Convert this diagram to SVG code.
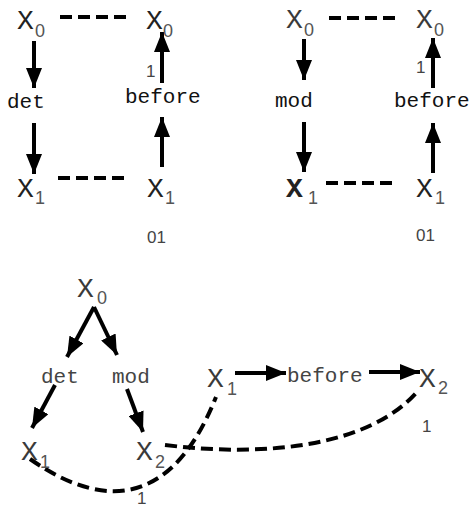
<svg xmlns="http://www.w3.org/2000/svg" width="472" height="507" viewBox="0 0 472 507">
<style>
.x{font-family:"Liberation Mono",monospace;font-size:28px;fill:#222}
.xg{font-family:"Liberation Mono",monospace;font-size:28px;fill:#3a3a3a}
.sub{font-family:"Liberation Sans",sans-serif;font-size:18px;fill:#555}
.lbl{font-family:"Liberation Mono",monospace;font-size:21px;fill:#111}
.lblg{font-family:"Liberation Mono",monospace;font-size:21px;fill:#444}
.num{font-family:"Liberation Sans",sans-serif;font-size:17px;fill:#444}
.ar{stroke:#000;stroke-width:4;fill:none;marker-end:url(#ah)}
.da{stroke:#000;stroke-width:4;fill:none;stroke-dasharray:12 6}
</style>
<defs>
<marker id="ah" markerUnits="userSpaceOnUse" markerWidth="20" markerHeight="16" refX="20" refY="8" orient="auto">
<path d="M0,0 L20,8 L0,16 z" fill="#000"/>
</marker>
</defs>
<g id="connectors">
<line class="da" x1="60" y1="17" x2="126" y2="17"/>
<line class="da" x1="58" y1="178" x2="126" y2="178"/>
<line class="ar" x1="34" y1="41" x2="34" y2="88"/>
<line class="ar" x1="34" y1="123" x2="34" y2="174"/>
<line class="ar" x1="162" y1="167" x2="162" y2="117"/>
<line class="ar" x1="162" y1="83" x2="162" y2="32"/>
<line class="da" x1="329" y1="18" x2="396" y2="18"/>
<line class="da" x1="326" y1="183" x2="394" y2="183"/>
<line class="ar" x1="304" y1="39" x2="304" y2="80"/>
<line class="ar" x1="304" y1="122" x2="304" y2="172"/>
<line class="ar" x1="433" y1="173" x2="433" y2="123"/>
<line class="ar" x1="433" y1="88" x2="433" y2="38"/>
<line class="ar" x1="94" y1="307" x2="67" y2="357"/>
<line class="ar" x1="94" y1="307" x2="117" y2="355"/>
<line class="ar" x1="55" y1="385" x2="32" y2="428"/>
<line class="ar" x1="127" y1="389" x2="143" y2="432"/>
<line class="ar" x1="235" y1="373" x2="286" y2="373"/>
<line class="ar" x1="369" y1="372" x2="420" y2="372"/>
<path class="da" d="M30,459 C110,515 175,500 216,397"/>
<path class="da" d="M165,445 C270,458 370,445 417,392"/>
</g>
<g id="tl-x0a"><text class="x" x="17" y="29">X</text><text class="sub" x="35" y="37">0</text></g>
<g id="tl-x0b"><text class="x" x="146" y="29">X</text><text class="sub" x="163" y="37">0</text></g>
<g id="tl-x1a"><text class="x" x="17" y="197">X</text><text class="sub" x="35" y="204">1</text></g>
<g id="tl-x1b"><text class="x" x="147" y="197">X</text><text class="sub" x="165" y="204">1</text></g>
<g id="tl-det"><text class="lbl" x="7" y="108">det</text></g>
<g id="tl-before"><text class="lbl" x="125" y="103">before</text></g>
<g id="tl-1"><text class="num" x="146" y="77">1</text></g>
<g id="tl-01"><text class="num" x="147" y="243">01</text></g>
<g id="tr-x0a"><text class="xg" x="286" y="28">X</text><text class="sub" x="304" y="36">0</text></g>
<g id="tr-x0b"><text class="xg" x="416" y="28">X</text><text class="sub" x="434" y="36">0</text></g>
<g id="tr-x1a"><text class="x" x="286" y="197" font-weight="bold">X</text><text class="sub" x="308" y="204">1</text></g>
<g id="tr-x1b"><text class="x" x="416" y="197">X</text><text class="sub" x="435" y="204">1</text></g>
<g id="tr-mod"><text class="lbl" x="275" y="107">mod</text></g>
<g id="tr-before"><text class="lbl" x="394" y="107">before</text></g>
<g id="tr-1"><text class="num" x="416" y="73">1</text></g>
<g id="tr-01"><text class="num" x="416" y="241">01</text></g>
<g id="b-x0"><text class="xg" x="77" y="297">X</text><text class="sub" x="97" y="304">0</text></g>
<g id="b-det"><text class="lblg" x="41" y="383">det</text></g>
<g id="b-mod"><text class="lblg" x="112" y="383">mod</text></g>
<g id="b-x1"><text class="xg" x="21" y="460">X</text><text class="sub" x="40" y="468">1</text></g>
<g id="b-x2"><text class="xg" x="136" y="460">X</text><text class="sub" x="155" y="468">2</text></g>
<g id="b-x1m"><text class="xg" x="207" y="387">X</text><text class="sub" x="227" y="395">1</text></g>
<g id="b-before"><text class="lblg" x="287" y="382">before</text></g>
<g id="b-x2r"><text class="xg" x="419" y="387">X</text><text class="sub" x="438" y="394">2</text></g>
<g id="b-1a"><text class="num" x="422" y="432">1</text></g>
<g id="b-1b"><text class="num" x="137" y="504">1</text></g>
</svg>
